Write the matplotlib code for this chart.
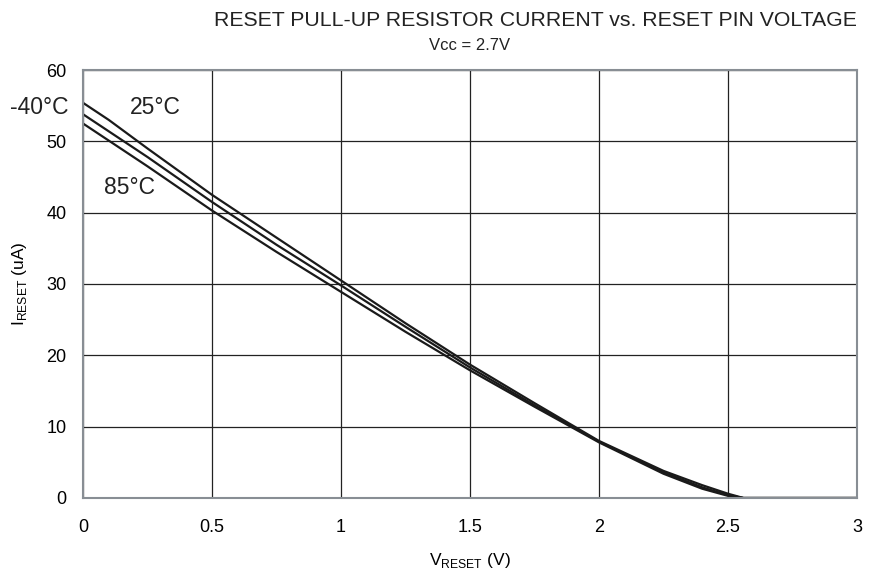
import matplotlib
matplotlib.use('Agg')
import matplotlib.pyplot as plt

plt.rcParams['font.family'] = ['Liberation Sans', 'DejaVu Sans']
plt.rcParams['mathtext.fontset'] = 'custom'
plt.rcParams['mathtext.rm'] = 'Liberation Sans'

# V_RESET (V) sample points and current (uA) per temperature
v = [0, 0.1, 0.25, 0.5, 0.75, 1.0, 1.25, 1.5, 1.75, 2.0, 2.25, 2.4, 2.5, 2.56, 3.0]
i_m40 = [55.4, 53.0, 49.0, 42.5, 36.5, 30.5, 24.5, 18.7, 13.3, 8.0, 3.8, 1.8, 0.6, 0.0, 0.0]
i_25 = [53.8, 51.4, 47.8, 41.5, 35.5, 29.8, 24.0, 18.3, 13.0, 7.9, 3.6, 1.5, 0.4, 0.0, 0.0]
i_85 = [52.5, 50.1, 46.5, 40.3, 34.5, 28.9, 23.3, 17.9, 12.8, 7.8, 3.4, 1.3, 0.3, 0.0, 0.0]

fig = plt.figure(figsize=(8.69, 5.73), dpi=100)
ax = fig.add_axes([83/869, 75/573, 774/869, 428/573])
for y in (i_m40, i_25, i_85):
    ax.plot(v, y, color='#1a1a1a', lw=1.6)

ax.set_xlim(0, 3); ax.set_ylim(0, 60)
ax.set_xticks([0, 0.5, 1, 1.5, 2, 2.5, 3])
ax.set_xticklabels(['0', '0.5', '1', '1.5', '2', '2.5', '3'])
ax.set_yticks(range(0, 61, 10))
ax.grid(True, color='#222222', lw=0.9)
ax.tick_params(length=0, labelsize=13, pad=12)
ax.tick_params(axis='x', pad=15)
for s in ax.spines.values():
    s.set_color('#888e94'); s.set_linewidth(1.5)

ax.set_xlabel(r'V$_{\mathrm{RESET}}$ (V)', fontsize=12.5, labelpad=11)
ax.set_ylabel(r'I$_{\mathrm{RESET}}$ (uA)', fontsize=12.5, labelpad=12)

fig.text(857/869, 1 - 21/573, 'RESET PULL-UP RESISTOR CURRENT vs. RESET PIN VOLTAGE',
         ha='right', va='center', fontsize=15.3, color='#222222')
fig.text(470/869, 1 - 46/573, 'Vcc = 2.7V', ha='center', va='center', fontsize=12, color='#222222')

ax.text(-0.058, 54.7, '-40°C', ha='right', va='center', fontsize=16.5, color='#222222', clip_on=False)
ax.text(0.18, 54.7, '25°C', ha='left', va='center', fontsize=16.5, color='#222222')
ax.text(0.08, 43.5, '85°C', ha='left', va='center', fontsize=16.5, color='#222222')

fig.savefig('out.png', dpi=100)
